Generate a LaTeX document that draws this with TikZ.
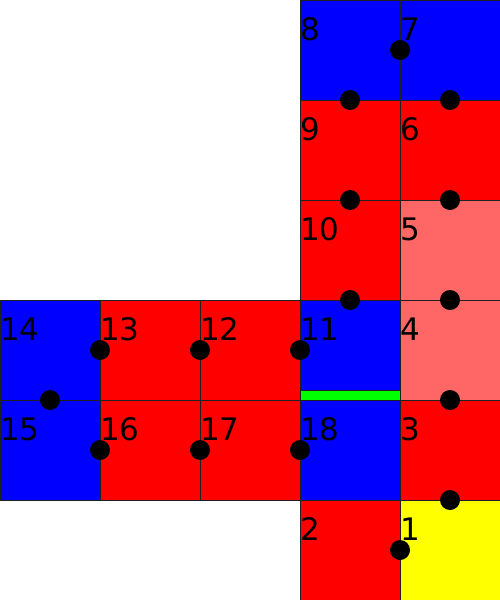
\documentclass[tikz,border=0pt]{standalone}
\usepackage{fontspec}
\setmainfont{DejaVu Sans}
\definecolor{cblue}{HTML}{0000FF}
\definecolor{cred}{HTML}{FF0000}
\definecolor{clight}{HTML}{FF6666}
\definecolor{cyellow}{HTML}{FFFF00}
\definecolor{cgreen}{HTML}{00FF00}
\definecolor{cedge}{HTML}{202020}
\tikzset{
  cell/.style={draw=cedge, line width=1pt, minimum size=100pt, inner sep=0pt, outer sep=0pt, anchor=north west},
  lbl/.style={anchor=base west, inner sep=0pt, font=\fontsize{31}{31}\selectfont},
  dot/.style={circle, fill=black, minimum size=20pt, inner sep=0pt}
}
\begin{document}
\begin{tikzpicture}[x=1pt,y=-1pt]
\useasboundingbox (0,0) rectangle (500,600);
% cells
\node[cell, fill=cblue] (c8) at (300,0) {};
\node[cell, fill=cblue] (c7) at (400,0) {};
\node[cell, fill=cred] (c9) at (300,100) {};
\node[cell, fill=cred] (c6) at (400,100) {};
\node[cell, fill=cred] (c10) at (300,200) {};
\node[cell, fill=clight] (c5) at (400,200) {};
\node[cell, fill=cblue] (c14) at (0,300) {};
\node[cell, fill=cred] (c13) at (100,300) {};
\node[cell, fill=cred] (c12) at (200,300) {};
\node[cell, fill=cblue] (c11) at (300,300) {};
\node[cell, fill=clight] (c4) at (400,300) {};
\node[cell, fill=cblue] (c15) at (0,400) {};
\node[cell, fill=cred] (c16) at (100,400) {};
\node[cell, fill=cred] (c17) at (200,400) {};
\node[cell, fill=cblue] (c18) at (300,400) {};
\node[cell, fill=cred] (c3) at (400,400) {};
\node[cell, fill=cred] (c2) at (300,500) {};
\node[cell, fill=cyellow] (c1) at (400,500) {};
% green bar
\node[draw=cedge, line width=1pt, fill=cgreen, minimum width=100pt, minimum height=10pt, inner sep=0pt, outer sep=0pt, anchor=south west] (bar) at (300,400) {};
% labels
\node[lbl] (l8) at (300,40) {8};
\node[lbl] (l7) at (400,40) {7};
\node[lbl] (l9) at (300,140) {9};
\node[lbl] (l6) at (400,140) {6};
\node[lbl] (l10) at (300,240) {10};
\node[lbl] (l5) at (400,240) {5};
\node[lbl] (l14) at (0,340) {14};
\node[lbl] (l13) at (100,340) {13};
\node[lbl] (l12) at (200,340) {12};
\node[lbl] (l11) at (300,340) {11};
\node[lbl] (l4) at (400,340) {4};
\node[lbl] (l15) at (0,440) {15};
\node[lbl] (l16) at (100,440) {16};
\node[lbl] (l17) at (200,440) {17};
\node[lbl] (l18) at (300,440) {18};
\node[lbl] (l3) at (400,440) {3};
\node[lbl] (l2) at (300,540) {2};
\node[lbl] (l1) at (400,540) {1};
% dots
\node[dot] (d1) at (400,50) {};
\node[dot] (d2) at (350,100) {};
\node[dot] (d3) at (450,100) {};
\node[dot] (d4) at (350,200) {};
\node[dot] (d5) at (450,200) {};
\node[dot] (d6) at (350,300) {};
\node[dot] (d7) at (450,300) {};
\node[dot] (d8) at (100,350) {};
\node[dot] (d9) at (200,350) {};
\node[dot] (d10) at (300,350) {};
\node[dot] (d11) at (50,400) {};
\node[dot] (d12) at (450,400) {};
\node[dot] (d13) at (100,450) {};
\node[dot] (d14) at (200,450) {};
\node[dot] (d15) at (300,450) {};
\node[dot] (d16) at (450,500) {};
\node[dot] (d17) at (400,550) {};
\end{tikzpicture}
\end{document}
